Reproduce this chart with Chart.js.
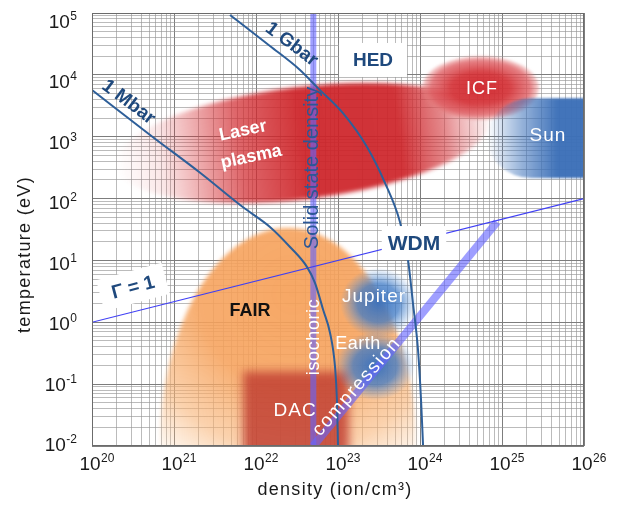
<!DOCTYPE html>
<html>
<head>
<meta charset="utf-8">
<script src="https://cdn.jsdelivr.net/npm/chart.js@4.4.1/dist/chart.umd.min.js"></script>
<style>
  html, body { margin: 0; padding: 0; background: #fff; }
</style>
</head>
<body>
<canvas id="phaseChart" width="618" height="507"></canvas>
<script>
// ===== AXES =====
const densityExponents = [20, 21, 22, 23, 24, 25, 26];
const tempExponents = [-2, -1, 0, 1, 2, 3, 4, 5];

// ===== ISOBARS (ion/cm3, eV) =====
const mbarDensity = [1e20, 5.5e20, 2.1e21, 6.9e21, 1.48e22, 2.6e22, 4.2e22, 5.25e22, 6.6e22, 8e22, 9.2e22, 9.7e22, 1e23];
const mbarTemp = [5700, 990, 259, 73, 34.8, 16.5, 7.8, 4.3, 1.58, 0.67, 0.19, 0.055, 0.01];
const gbarDensity = [4.82e21, 1.48e22, 3.44e22, 5.7e22, 1.15e23, 2.26e23, 3.74e23, 5.7e23, 7.14e23, 8.2e23, 9.46e23, 1.03e24, 1.09e24];
const gbarTemp = [9.3e4, 2.93e4, 1.2e4, 6.1e3, 2.4e3, 682, 179, 41.8, 10.2, 2.05, 0.356, 0.055, 0.01];

// ===== COUPLING / DENSITY LINES =====
const gammaDensity = [1e20, 1e26];
const gammaTemp = [1, 100];
const solidDensity = [5e22, 5e22];
const solidTemp = [1e-2, 1e5];
const compDensity = [5e22, 8.7e24];
const compTemp = [1e-2, 41.8];

// ===== REGIONS (bounding boxes) =====
const regionNames = ['FAIR', 'DAC', 'Jupiter', 'Earth', 'Laser plasma', 'ICF', 'Sun'];
const regionDensityMin = [6.7e20, 6.4e21, 1.06e23, 9.2e22, 1.9e20, 1.06e24, 6.6e24];
const regionDensityMax = [8.9e23, 1.48e23, 9.2e23, 8.7e23, 7.1e24, 2.83e25, 2e26];
const regionTempMin = [1e-2, 1e-2, 0.56, 0.055, 98, 1.86e3, 215];
const regionTempMax = [33.4, 0.18, 7.6, 0.70, 6.4e3, 2.02e4, 4.2e3];

// ===== LABELS =====
const noteText = ['1 Mbar', '1 Gbar', 'HED', 'ICF', 'Sun', 'Laser', 'plasma', 'Solid state density',
  'isochoric', 'WDM', 'Γ = 1', 'FAIR', 'Jupiter', 'Earth', 'DAC', 'compression'];
const noteDensity = [2.83e20, 2.75e22, 2.67e23, 5.7e24, 3.64e25, 6.9e21, 8.7e21, 4.7e22,
  4.95e22, 8.45e23, 3.16e20, 8.45e21, 2.75e23, 1.75e23, 3.0e22, 1.66e23];
const noteTemp = [3.71e3, 3.21e4, 1.74e4, 6.1e3, 1.07e3, 1.29e3, 488, 312,
  0.58, 19.1, 3.72, 1.58, 2.66, 0.46, 0.038, 0.093];

const FONT = '"Liberation Sans", Arial, sans-serif';
const NAVY = '#1f497d';
const noteStyle = [
  { font: 'bold 19px', color: NAVY, angle: 37 },
  { font: 'bold 19px', color: NAVY, angle: 37 },
  { font: 'bold 19px', color: NAVY, box: [14, 34] },
  { font: '18px', color: '#fff', spacing: 1 },
  { font: '19px', color: '#fff', spacing: 1 },
  { font: 'bold 18px', color: '#fff', angle: -12 },
  { font: 'bold 18px', color: '#fff', angle: -12 },
  { font: '20px', color: '#2b5797', angle: -90 },
  { font: '18px', color: '#fff', angle: -90, spacing: 0.6 },
  { font: 'bold 21px', color: NAVY, box: [6, 34] },
  { font: 'bold 19px', color: NAVY, angle: -15, box: [12, 32] },
  { font: 'bold 18px', color: '#111' },
  { font: '19px', color: '#fff', spacing: 1 },
  { font: '18px', color: '#fff', spacing: 0.5 },
  { font: '19px', color: '#fff', spacing: 1 },
  { font: '19px', color: '#fff', angle: -49, spacing: 1.5 }
];

const pts = (xs, ys) => xs.map((v, i) => ({ x: v, y: ys[i] }));

const logTicks = (exps) => {
  const out = [];
  exps.forEach((e, i) => {
    const last = i === exps.length - 1;
    for (let m = 1; m < (last ? 2 : 10); m++) {
      out.push({ value: m * Math.pow(10, e), major: m === 1 });
    }
  });
  return out;
};

const gridColor = (c) => (c.tick && c.tick.major ? '#7d7d7d' : 'rgba(150,150,150,0.65)');

// ===== REGION PAINTERS =====
const ellipseFill = (ctx, cx, cy, rx, ry, rot, stops, blur, linear) => {
  ctx.save();
  ctx.filter = blur ? `blur(${blur}px)` : 'none';
  ctx.translate(cx, cy);
  ctx.rotate(rot);
  ctx.scale(rx, ry);
  const g = linear ? ctx.createLinearGradient(-1, 0, 1, 0) : ctx.createRadialGradient(0, 0, 0, 0, 0, 1);
  stops.forEach(s => g.addColorStop(s[0], s[1]));
  ctx.fillStyle = g;
  ctx.beginPath();
  ctx.arc(0, 0, 1, 0, Math.PI * 2);
  ctx.fill();
  ctx.restore();
};

const painters = {
  'FAIR': (ctx, x0, y0, x1, y1) => {
    const cx = (x0 + x1) / 2, rx = (x1 - x0) / 2, ry = y1 - y0;
    const gx = cx + 5, gy = y0 + ry * 0.3;
    const g = ctx.createRadialGradient(gx, gy, 0, gx, gy, ry * 0.97);
    g.addColorStop(0, 'rgba(246,160,88,0.92)');
    g.addColorStop(0.45, 'rgba(246,162,92,0.88)');
    g.addColorStop(0.75, 'rgba(248,178,115,0.58)');
    g.addColorStop(1, 'rgba(250,205,160,0.05)');
    ctx.save();
    ctx.filter = 'blur(2px)';
    ctx.fillStyle = g;
    ctx.beginPath();
    ctx.ellipse(cx, y1, rx, ry, 0, 0, Math.PI * 2);
    ctx.fill();
    ctx.restore();
  },
  'DAC': (ctx, x0, y0, x1, y1) => {
    ctx.save();
    ctx.filter = 'blur(5px)';
    ctx.fillStyle = 'rgba(194,66,52,0.86)';
    ctx.fillRect(x0 + 3, y0 + 3, x1 - x0 - 6, y1 - y0 + 20);
    ctx.restore();
  },
  'Jupiter': (ctx, x0, y0, x1, y1) => ellipseFill(ctx, (x0 + x1) / 2, (y0 + y1) / 2, (x1 - x0) / 2, (y1 - y0) / 2, 0,
    [[0, 'rgba(55,112,190,0.95)'], [0.55, 'rgba(62,122,198,0.75)'], [1, 'rgba(95,150,215,0)']], 0),
  'Earth': (ctx, x0, y0, x1, y1) => ellipseFill(ctx, (x0 + x1) / 2, (y0 + y1) / 2, (x1 - x0) / 2, (y1 - y0) / 2, 0,
    [[0, 'rgba(52,110,190,0.95)'], [0.55, 'rgba(62,122,198,0.75)'], [1, 'rgba(95,150,215,0)']], 0),
  'Laser plasma': (ctx, x0, y0, x1, y1) => ellipseFill(ctx, (x0 + x1) / 2, (y0 + y1) / 2, (x1 - x0) / 2, (y1 - y0) / 2, -0.12,
    [[0, 'rgba(215,50,55,0)'], [0.12, 'rgba(215,55,60,0.12)'], [0.33, 'rgba(210,45,50,0.72)'],
     [0.5, 'rgba(205,35,40,0.93)'], [0.76, 'rgba(205,35,40,0.92)'], [0.88, 'rgba(212,65,70,0.62)'],
     [0.96, 'rgba(222,105,110,0.3)'], [1, 'rgba(228,130,130,0.08)']], 2, true),
  'ICF': (ctx, x0, y0, x1, y1) => ellipseFill(ctx, (x0 + x1) / 2, (y0 + y1) / 2, (x1 - x0) / 2, (y1 - y0) / 2, 0,
    [[0, 'rgba(208,38,45,0.97)'], [0.5, 'rgba(212,50,55,0.92)'], [0.85, 'rgba(222,92,97,0.78)'], [1, 'rgba(230,130,130,0.35)']], 1.5),
  'Sun': (ctx, x0, y0, x1, y1) => {
    const cy = (y0 + y1) / 2, ry = (y1 - y0) / 2, rx = ry * 1.1;
    const g = ctx.createLinearGradient(x0, 0, x0 + 70, 0);
    g.addColorStop(0, 'rgba(62,114,186,0)');
    g.addColorStop(0.5, 'rgba(62,114,186,0.55)');
    g.addColorStop(1, 'rgba(60,112,184,0.97)');
    ctx.save();
    ctx.filter = 'blur(1px)';
    ctx.fillStyle = g;
    ctx.beginPath();
    ctx.ellipse(x0 + rx, cy, rx, ry, 0, Math.PI / 2, Math.PI * 1.5);
    ctx.lineTo(x1, y0);
    ctx.lineTo(x1, y1);
    ctx.closePath();
    ctx.fill();
    ctx.restore();
  }
};

const regionPlugin = {
  id: 'regions',
  beforeDatasetsDraw(chart) {
    const { ctx, chartArea: a, scales: { x, y } } = chart;
    ctx.save();
    ctx.beginPath();
    ctx.rect(a.left, a.top, a.right - a.left, a.bottom - a.top);
    ctx.clip();
    regionNames.forEach((name, i) => {
      painters[name](ctx,
        x.getPixelForValue(regionDensityMin[i]), y.getPixelForValue(regionTempMax[i]),
        x.getPixelForValue(regionDensityMax[i]), y.getPixelForValue(regionTempMin[i]));
    });
    ctx.restore();
  }
};

// ===== TEXT =====
const noteDraw = (ctx, text, px, py, st) => {
  ctx.save();
  ctx.translate(px, py);
  ctx.rotate((st.angle || 0) * Math.PI / 180);
  ctx.font = `${st.font} ${FONT}`;
  ctx.letterSpacing = `${st.spacing || 0}px`;
  ctx.textAlign = 'center';
  ctx.textBaseline = 'middle';
  if (st.box) {
    const w = ctx.measureText(text).width + st.box[0] * 2;
    ctx.fillStyle = '#fff';
    ctx.fillRect(-w / 2, -st.box[1] / 2, w, st.box[1]);
  }
  ctx.fillStyle = st.color;
  ctx.fillText(text, 0, 1);
  ctx.restore();
};

const notePlugin = {
  id: 'notes',
  afterDatasetsDraw(chart) {
    const { ctx, scales: { x, y } } = chart;
    noteText.forEach((t, i) => {
      noteDraw(ctx, t, x.getPixelForValue(noteDensity[i]), y.getPixelForValue(noteTemp[i]), noteStyle[i]);
    });
  }
};

const axisPlugin = {
  id: 'axisText',
  afterDraw(chart) {
    const { ctx, chartArea: a, scales: { x, y } } = chart;
    ctx.save();
    ctx.strokeStyle = '#6b6b6b';
    ctx.lineWidth = 1;
    ctx.strokeRect(a.left + 0.5, a.top + 0.5, a.right - a.left - 1, a.bottom - a.top - 1);

    ctx.fillStyle = '#1a1a1a';
    ctx.textBaseline = 'alphabetic';
    densityExponents.forEach(e => {
      const px = x.getPixelForValue(Math.pow(10, e)) - 2;
      ctx.font = `19px ${FONT}`;
      const w = ctx.measureText('10').width;
      ctx.textAlign = 'center';
      ctx.fillText('10', px, 470);
      ctx.font = `12px ${FONT}`;
      ctx.textAlign = 'left';
      ctx.fillText(String(e), px + w / 2 + 0.5, 462);
    });
    tempExponents.forEach(e => {
      const py = y.getPixelForValue(Math.pow(10, e));
      const frac = (py - a.top) / (a.bottom - a.top);
      const base = py + 8 - 10 * frac + 7;
      ctx.font = `12px ${FONT}`;
      ctx.textAlign = 'right';
      const ew = ctx.measureText(String(e)).width;
      ctx.fillText(String(e), 77, base - 8);
      ctx.font = `19px ${FONT}`;
      ctx.fillText('10', 77 - ew - 0.5, base);
    });

    ctx.font = `18px ${FONT}`;
    ctx.letterSpacing = '1.3px';
    ctx.textAlign = 'center';
    ctx.fillText('density (ion/cm³)', (a.left + a.right) / 2 - 3, 495);
    ctx.translate(30, (a.top + a.bottom) / 2 + 25);
    ctx.rotate(-Math.PI / 2);
    ctx.fillText('temperature (eV)', 0, 0);
    ctx.restore();
  }
};

// ===== BUILD CHART =====
const lineSet = (label, data, color, width, extra) => Object.assign({
  label, data, borderColor: color, borderWidth: width, showLine: true,
  pointRadius: 0, pointHoverRadius: 0, fill: false, borderCapStyle: 'butt'
}, extra || {});

new Chart(document.getElementById('phaseChart'), {
  type: 'scatter',
  data: {
    datasets: [
      lineSet('1 Mbar', pts(mbarDensity, mbarTemp), '#2e5f99', 2, { cubicInterpolationMode: 'monotone' }),
      lineSet('1 Gbar', pts(gbarDensity, gbarTemp), '#2e5f99', 2, { cubicInterpolationMode: 'monotone' }),
      lineSet('Γ = 1', pts(gammaDensity, gammaTemp), '#3f3ff5', 1.2),
      lineSet('solid density', pts(solidDensity, solidTemp), 'rgba(100,100,255,0.62)', 6),
      lineSet('compression', pts(compDensity, compTemp), 'rgba(100,100,255,0.62)', 8)
    ]
  },
  options: {
    responsive: false,
    animation: false,
    devicePixelRatio: 1,
    layout: { padding: { left: 92, right: 34, top: 13, bottom: 61 } },
    plugins: { legend: { display: false }, tooltip: { enabled: false } },
    scales: {
      x: {
        type: 'logarithmic',
        min: 1e20,
        max: 1e26,
        afterBuildTicks: s => { s.ticks = logTicks(densityExponents); },
        afterFit: s => { s.height = 0; },
        ticks: { display: false },
        grid: { color: gridColor, lineWidth: 1, drawTicks: false },
        border: { display: false }
      },
      y: {
        type: 'logarithmic',
        min: 1e-2,
        max: 1e5,
        afterBuildTicks: s => { s.ticks = logTicks(tempExponents); },
        afterFit: s => { s.width = 0; },
        ticks: { display: false },
        grid: { color: gridColor, lineWidth: 1, drawTicks: false },
        border: { display: false }
      }
    }
  },
  plugins: [regionPlugin, notePlugin, axisPlugin]
});
</script>
</body>
</html>
